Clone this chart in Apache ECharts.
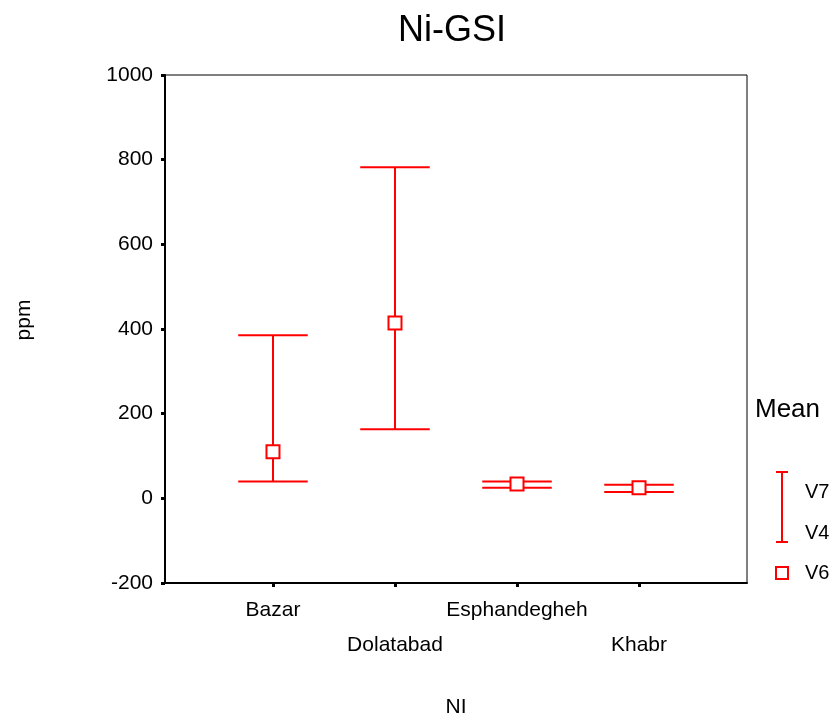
<!DOCTYPE html>
<html>
<head>
<meta charset="utf-8">
<script src="https://cdn.jsdelivr.net/npm/echarts@6/dist/echarts.min.js"></script>
<style>html,body{margin:0;padding:0;background:#fff}#c{width:836px;height:721px}</style>
</head>
<body>
<div id="c"></div>
<script>
var categories = ['Bazar', 'Dolatabad', 'Esphandegheh', 'Khabr'];
var upperV7 = [385, 782, 40, 32];
var lowerV4 = [40, 163, 25, 15];
var meanV6 = [110, 414, 34, 25];
var yTicks = [-200, 0, 200, 400, 600, 800, 1000];

var FONT = 'Liberation Sans, Arial, sans-serif';
var chart = echarts.init(document.getElementById('c'));

var barData = categories.map(function (c, i) { return [i + 1, lowerV4[i], upperV7[i]]; });
var meanData = categories.map(function (c, i) { return [i + 1, meanV6[i]]; });

chart.setOption({
  animation: false,
  backgroundColor: '#fff',
  textStyle: { fontFamily: FONT },
  grid: { left: 165, right: 89, top: 75, bottom: 138, containLabel: false, outerBoundsMode: 'none', show: true, borderColor: '#000', borderWidth: 1, backgroundColor: 'transparent' },
  xAxis: {
    type: 'value', min: 0.115, max: 4.885,
    name: 'NI', nameLocation: 'middle', nameGap: 114,
    nameTextStyle: { color: '#000', fontSize: 21, fontFamily: FONT },
    splitLine: { show: false },
    axisLine: { show: true, onZero: false, lineStyle: { color: '#000', width: 2 } },
    axisTick: { show: true, inside: false, length: 4, customValues: [1, 2, 3, 4], lineStyle: { color: '#000', width: 3 } },
    axisLabel: {
      customValues: [1, 2, 3, 4], margin: 17, color: '#000', fontSize: 21, fontFamily: FONT,
      formatter: function (v) {
        var i = Math.round(v) - 1;
        return i % 2 === 1 ? '{b|' + categories[i] + '}' : '{a|' + categories[i] + '}';
      },
      rich: {
        a: { fontSize: 21, fontFamily: FONT, color: '#000' },
        b: { fontSize: 21, fontFamily: FONT, color: '#000', padding: [35, 0, 0, 0] }
      }
    }
  },
  yAxis: {
    type: 'value', min: yTicks[0], max: yTicks[yTicks.length - 1], interval: 200,
    splitLine: { show: false },
    axisLine: { show: true, onZero: false, lineStyle: { color: '#000', width: 2 } },
    axisTick: { show: true, inside: false, length: 4, lineStyle: { color: '#000', width: 3 } },
    axisLabel: { margin: 12, color: '#000', fontSize: 21, fontFamily: FONT, formatter: function (v) { return String(v); } }
  },
  graphic: [
    { type: 'text', x: 452, y: 31, style: { text: 'Ni-GSI', fontSize: 36, fontFamily: FONT, fill: '#000', align: 'center', verticalAlign: 'middle' } },
    { type: 'text', x: 24, y: 320, rotation: Math.PI / 2, style: { text: 'ppm', fontSize: 21, fontFamily: FONT, fill: '#000', align: 'center', verticalAlign: 'middle' } },
    { type: 'text', x: 755, y: 410, style: { text: 'Mean', fontSize: 26, fontFamily: FONT, fill: '#000', align: 'left', verticalAlign: 'middle' } },
    { type: 'line', shape: { x1: 782, y1: 472, x2: 782, y2: 542 }, style: { stroke: '#ff0000', lineWidth: 2 } },
    { type: 'line', shape: { x1: 776, y1: 472, x2: 788, y2: 472 }, style: { stroke: '#ff0000', lineWidth: 2 } },
    { type: 'line', shape: { x1: 776, y1: 542, x2: 788, y2: 542 }, style: { stroke: '#ff0000', lineWidth: 2 } },
    { type: 'rect', shape: { x: 776, y: 567, width: 12, height: 12 }, style: { stroke: '#ff0000', lineWidth: 2, fill: '#fff' } },
    { type: 'text', x: 805, y: 492, style: { text: 'V7', fontSize: 20, fontFamily: FONT, fill: '#000', align: 'left', verticalAlign: 'middle' } },
    { type: 'text', x: 805, y: 533, style: { text: 'V4', fontSize: 20, fontFamily: FONT, fill: '#000', align: 'left', verticalAlign: 'middle' } },
    { type: 'text', x: 805, y: 573, style: { text: 'V6', fontSize: 20, fontFamily: FONT, fill: '#000', align: 'left', verticalAlign: 'middle' } }
  ],
  series: [
    {
      type: 'custom', z: 2,
      data: barData,
      renderItem: function (params, api) {
        var x = api.value(0);
        var lo = api.coord([x, api.value(1)]);
        var hi = api.coord([x, api.value(2)]);
        var hw = api.size([0.57, 0])[0] / 2;
        var st = { stroke: '#ff0000', lineWidth: 2 };
        return {
          type: 'group',
          children: [
            { type: 'line', shape: { x1: lo[0], y1: lo[1], x2: hi[0], y2: hi[1] }, style: st },
            { type: 'line', shape: { x1: hi[0] - hw, y1: hi[1], x2: hi[0] + hw, y2: hi[1] }, style: st },
            { type: 'line', shape: { x1: lo[0] - hw, y1: lo[1], x2: lo[0] + hw, y2: lo[1] }, style: st }
          ]
        };
      }
    },
    {
      type: 'scatter', z: 3,
      data: meanData,
      symbol: 'rect', symbolSize: 13,
      itemStyle: { color: '#fff', borderColor: '#ff0000', borderWidth: 2, opacity: 1 }
    }
  ]
});
</script>
</body>
</html>
